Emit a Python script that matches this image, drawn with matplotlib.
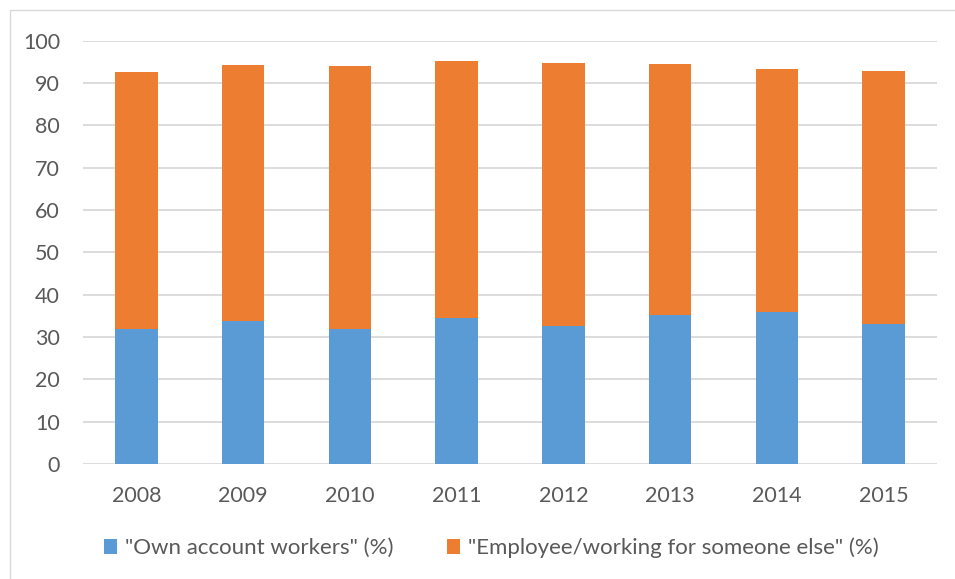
import matplotlib.pyplot as plt
import numpy as np
from matplotlib.patches import Rectangle

years = ["2008", "2009", "2010", "2011", "2012", "2013", "2014", "2015"]
own_account = [31.9, 33.8, 31.8, 34.5, 32.5, 35.2, 35.8, 33.0]
employee = [60.8, 60.5, 62.2, 60.7, 62.3, 59.3, 57.4, 59.9]

plt.rcParams['font.family'] = ['Lato', 'DejaVu Sans']
text_col = '#595959'
grid_col = '#d9d9d9'

fig = plt.figure(figsize=(9.55, 5.79), dpi=100)
ax = fig.add_axes([83 / 955, 1 - 464 / 579, 854 / 955, (464 - 40.7) / 579])

x = np.arange(len(years))
ax.bar(x, own_account, width=0.4, color='#5b9bd5', label='"Own account workers" (%)', zorder=3)
ax.bar(x, employee, width=0.4, bottom=own_account, color='#ed7d31',
       label='"Employee/working for someone else" (%)', zorder=3)

ax.set_xlim(-0.5, len(years) - 0.5)
ax.set_ylim(0, 100)
ax.set_yticks(range(0, 101, 10))
ax.set_xticks(x)
ax.set_xticklabels(years)
ax.yaxis.grid(True, color=grid_col, linewidth=1.3, zorder=0)
ax.set_axisbelow(True)
for s in ax.spines.values():
    s.set_visible(False)
ax.tick_params(axis='both', length=0, labelsize=15.5, colors=text_col)
ax.tick_params(axis='x', pad=15.5)
ax.tick_params(axis='y', pad=16.5)

leg = fig.legend(loc='center', bbox_to_anchor=(491 / 955, 1 - 548 / 579), ncol=2,
                 frameon=False, fontsize=16, handlelength=0.6, handleheight=0.6,
                 handletextpad=0.35, columnspacing=2.4)
for t in leg.get_texts():
    t.set_color(text_col)

# light frame around the chart area
fig.patches.append(Rectangle((10 / 955, -0.01), 1.0, 1 - 10 / 579 + 0.01,
                             transform=fig.transFigure, fill=False,
                             edgecolor='#d9d9d9', linewidth=1))

fig.savefig('out.png', dpi=100)
